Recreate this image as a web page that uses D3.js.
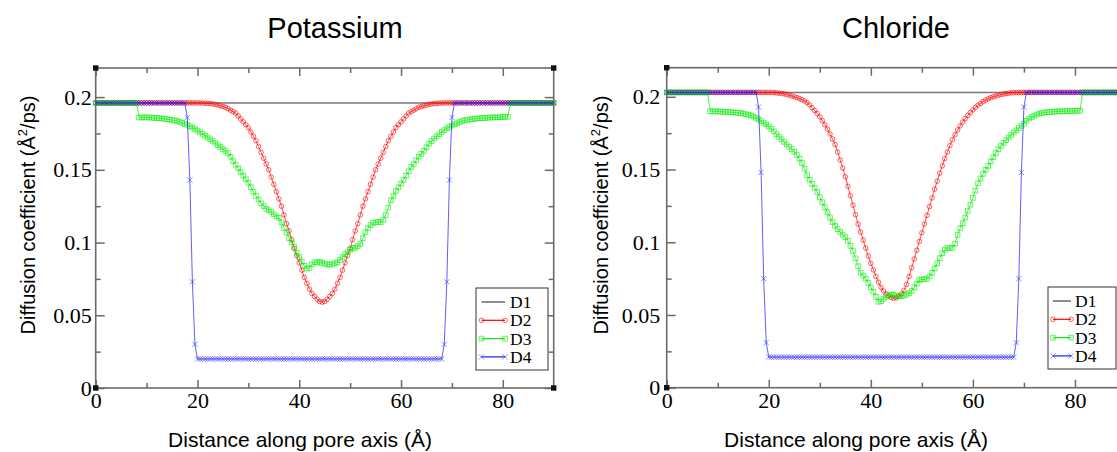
<!DOCTYPE html>
<html><head><meta charset="utf-8">
<script src="https://cdn.jsdelivr.net/npm/d3@7"></script>
<style>body{margin:0;background:#fff}svg{display:block}</style>
</head><body>
<svg id="chart" width="1117" height="452"></svg>
<script>
// ---------- DATA ----------
const positions = [
0,0.5,1,1.5,2,2.5,3,3.5,4,4.5,
5,5.5,6,6.5,7,7.5,8,8.5,9,9.5,
10,10.5,11,11.5,12,12.5,13,13.5,14,14.5,
15,15.5,16,16.5,17,17.5,18,18.5,19,19.5,
20,20.5,21,21.5,22,22.5,23,23.5,24,24.5,
25,25.5,26,26.5,27,27.5,28,28.5,29,29.5,
30,30.5,31,31.5,32,32.5,33,33.5,34,34.5,
35,35.5,36,36.5,37,37.5,38,38.5,39,39.5,
40,40.5,41,41.5,42,42.5,43,43.5,44,44.5,
45,45.5,46,46.5,47,47.5,48,48.5,49,49.5,
50,50.5,51,51.5,52,52.5,53,53.5,54,54.5,
55,55.5,56,56.5,57,57.5,58,58.5,59,59.5,
60,60.5,61,61.5,62,62.5,63,63.5,64,64.5,
65,65.5,66,66.5,67,67.5,68,68.5,69,69.5,
70,70.5,71,71.5,72,72.5,73,73.5,74,74.5,
75,75.5,76,76.5,77,77.5,78,78.5,79,79.5,
80,80.5,81,81.5,82,82.5,83,83.5,84,84.5,
85,85.5,86,86.5,87,87.5,88,88.5,89,89.5,
90];

const seriesNames = ["D1","D2","D3","D4"];
const d1Positions = [0, 90];

const potassiumD1 = [0.196, 0.196];
const potassiumD2 = [
0.196,0.196,0.196,0.196,0.196,0.196,0.196,0.196,0.196,0.196,
0.196,0.196,0.196,0.196,0.196,0.196,0.196,0.196,0.196,0.196,
0.196,0.196,0.196,0.196,0.196,0.196,0.196,0.196,0.196,0.196,
0.196,0.196,0.196,0.196,0.196,0.196,0.196,0.196,0.196,0.196,
0.196,0.196,0.1959,0.1958,0.1957,0.1955,0.1953,0.195,0.1945,0.194,
0.1935,0.193,0.192,0.191,0.19,0.189,0.187,0.185,0.183,0.181,
0.179,0.176,0.173,0.17,0.166,0.162,0.158,0.154,0.15,0.145,
0.14,0.135,0.13,0.125,0.119,0.113,0.108,0.102,0.096,0.091,
0.086,0.081,0.076,0.072,0.068,0.065,0.063,0.061,0.0595,0.059,
0.0595,0.061,0.063,0.065,0.068,0.072,0.076,0.081,0.086,0.091,
0.096,0.102,0.108,0.113,0.119,0.125,0.13,0.135,0.14,0.145,
0.15,0.154,0.158,0.162,0.166,0.17,0.173,0.176,0.179,0.181,
0.183,0.185,0.187,0.189,0.19,0.191,0.192,0.193,0.1935,0.194,
0.1945,0.195,0.1953,0.1955,0.1957,0.1958,0.1959,0.196,0.196,0.196,
0.196,0.196,0.196,0.196,0.196,0.196,0.196,0.196,0.196,0.196,
0.196,0.196,0.196,0.196,0.196,0.196,0.196,0.196,0.196,0.196,
0.196,0.196,0.196,0.196,0.196,0.196,0.196,0.196,0.196,0.196,
0.196,0.196,0.196,0.196,0.196,0.196,0.196,0.196,0.196,0.196,
0.196];
const potassiumD3 = [
0.196,0.196,0.196,0.196,0.196,0.196,0.196,0.196,0.196,0.196,
0.196,0.196,0.196,0.196,0.196,0.196,0.196,0.186,0.186,0.186,
0.186,0.186,0.1858,0.1857,0.1856,0.1855,0.1853,0.185,0.1848,0.1845,
0.1842,0.184,0.1835,0.183,0.1823,0.1815,0.181,0.18,0.179,0.178,
0.177,0.1758,0.1747,0.1735,0.1722,0.171,0.1698,0.1685,0.167,0.1657,
0.1643,0.163,0.1615,0.159,0.156,0.1535,0.151,0.1485,0.146,0.1435,
0.141,0.138,0.135,0.132,0.1295,0.127,0.125,0.1232,0.1222,0.121,
0.1195,0.118,0.117,0.114,0.11,0.107,0.103,0.1,0.097,0.093,
0.09,0.087,0.084,0.082,0.0825,0.085,0.0865,0.0862,0.0868,0.086,
0.0855,0.085,0.0848,0.0852,0.0858,0.0865,0.088,0.09,0.092,0.0935,
0.095,0.096,0.0965,0.0975,0.099,0.103,0.107,0.11,0.112,0.1135,
0.114,0.1142,0.114,0.1155,0.119,0.124,0.129,0.132,0.1355,0.138,
0.1405,0.143,0.146,0.149,0.152,0.154,0.1565,0.159,0.161,0.163,
0.1655,0.168,0.1698,0.1715,0.173,0.1745,0.176,0.1773,0.1785,0.1795,
0.1805,0.1813,0.182,0.1828,0.1835,0.184,0.1843,0.1846,0.1849,0.1851,
0.1853,0.1855,0.1856,0.1857,0.1858,0.1859,0.186,0.186,0.1861,0.1862,
0.1863,0.1864,0.1865,0.196,0.196,0.196,0.196,0.196,0.196,0.196,
0.196,0.196,0.196,0.196,0.196,0.196,0.196,0.196,0.196,0.196,
0.196];
const potassiumD4 = [
0.196,0.196,0.196,0.196,0.196,0.196,0.196,0.196,0.196,0.196,
0.196,0.196,0.196,0.196,0.196,0.196,0.196,0.196,0.196,0.196,
0.196,0.196,0.196,0.196,0.196,0.196,0.196,0.196,0.196,0.196,
0.196,0.196,0.196,0.196,0.196,0.196,0.186,0.143,0.073,0.03,
0.02,0.02,0.02,0.02,0.02,0.02,0.02,0.02,0.02,0.02,
0.02,0.02,0.02,0.02,0.02,0.02,0.02,0.02,0.02,0.02,
0.02,0.02,0.02,0.02,0.02,0.02,0.02,0.02,0.02,0.02,
0.02,0.02,0.02,0.02,0.02,0.02,0.02,0.02,0.02,0.02,
0.02,0.02,0.02,0.02,0.02,0.02,0.02,0.02,0.02,0.02,
0.02,0.02,0.02,0.02,0.02,0.02,0.02,0.02,0.02,0.02,
0.02,0.02,0.02,0.02,0.02,0.02,0.02,0.02,0.02,0.02,
0.02,0.02,0.02,0.02,0.02,0.02,0.02,0.02,0.02,0.02,
0.02,0.02,0.02,0.02,0.02,0.02,0.02,0.02,0.02,0.02,
0.02,0.02,0.02,0.02,0.02,0.02,0.02,0.03,0.073,0.143,
0.186,0.196,0.196,0.196,0.196,0.196,0.196,0.196,0.196,0.196,
0.196,0.196,0.196,0.196,0.196,0.196,0.196,0.196,0.196,0.196,
0.196,0.196,0.196,0.196,0.196,0.196,0.196,0.196,0.196,0.196,
0.196,0.196,0.196,0.196,0.196,0.196,0.196,0.196,0.196,0.196,
0.196];

const chlorideD1 = [0.203, 0.203];
const chlorideD2 = [
0.203,0.203,0.203,0.203,0.203,0.203,0.203,0.203,0.203,0.203,
0.203,0.203,0.203,0.203,0.203,0.203,0.203,0.203,0.203,0.203,
0.203,0.203,0.203,0.203,0.203,0.203,0.203,0.203,0.203,0.203,
0.203,0.203,0.203,0.203,0.203,0.203,0.203,0.203,0.203,0.203,
0.203,0.203,0.2029,0.2027,0.2025,0.2023,0.202,0.2016,0.2011,0.2006,
0.2,0.1995,0.1988,0.198,0.1972,0.196,0.1945,0.1925,0.1905,0.1885,
0.1862,0.1836,0.1808,0.1778,0.1745,0.171,0.1672,0.162,0.1565,0.151,
0.145,0.1385,0.132,0.1255,0.119,0.1125,0.107,0.1015,0.096,0.0905,
0.0855,0.081,0.0765,0.0725,0.069,0.0665,0.0645,0.063,0.062,0.0615,
0.0618,0.0628,0.0645,0.067,0.071,0.0765,0.0825,0.0885,0.0945,0.1005,
0.1065,0.1125,0.1185,0.1245,0.1305,0.1365,0.142,0.1475,0.1525,0.1575,
0.162,0.1665,0.1705,0.174,0.1772,0.18,0.1826,0.185,0.1872,0.1892,
0.191,0.1927,0.1942,0.1955,0.1967,0.1977,0.1986,0.1994,0.2,0.2006,
0.2011,0.2015,0.2019,0.2022,0.2025,0.2027,0.2028,0.2029,0.203,0.203,
0.203,0.203,0.203,0.203,0.203,0.203,0.203,0.203,0.203,0.203,
0.203,0.203,0.203,0.203,0.203,0.203,0.203,0.203,0.203,0.203,
0.203,0.203,0.203,0.203,0.203,0.203,0.203,0.203,0.203,0.203,
0.203,0.203,0.203,0.203,0.203,0.203,0.203,0.203,0.203,0.203,
0.203];
const chlorideD3 = [
0.203,0.203,0.203,0.203,0.203,0.203,0.203,0.203,0.203,0.203,
0.203,0.203,0.203,0.203,0.203,0.203,0.203,0.19,0.19,0.19,
0.1899,0.1898,0.1897,0.1896,0.1895,0.1894,0.1893,0.1891,0.189,0.1888,
0.1885,0.1881,0.1877,0.1872,0.1865,0.1855,0.1845,0.1833,0.182,0.181,
0.1795,0.178,0.1762,0.1743,0.1725,0.1708,0.169,0.1673,0.1657,0.164,
0.1622,0.16,0.1575,0.1545,0.1505,0.1462,0.143,0.14,0.1375,0.1345,
0.131,0.1275,0.124,0.1205,0.117,0.1138,0.1112,0.109,0.107,0.1052,
0.1035,0.101,0.0975,0.094,0.089,0.0835,0.079,0.077,0.075,0.072,
0.069,0.066,0.0625,0.059,0.0595,0.061,0.0625,0.0635,0.064,0.0638,
0.0632,0.0628,0.063,0.0635,0.064,0.065,0.0665,0.069,0.0715,0.074,
0.0745,0.0745,0.0748,0.0765,0.079,0.082,0.0855,0.089,0.0925,0.095,
0.096,0.096,0.0962,0.099,0.105,0.1095,0.113,0.117,0.1215,0.1258,
0.1305,0.1355,0.1405,0.1438,0.147,0.1498,0.1525,0.1555,0.1585,0.1613,
0.164,0.1662,0.1683,0.1702,0.172,0.1738,0.1755,0.177,0.1785,0.18,
0.1815,0.1835,0.185,0.186,0.187,0.1878,0.1885,0.1889,0.1892,0.1894,
0.1896,0.1897,0.1898,0.1899,0.19,0.19,0.1901,0.1902,0.1902,0.1903,
0.1903,0.1904,0.1904,0.203,0.203,0.203,0.203,0.203,0.203,0.203,
0.203,0.203,0.203,0.203,0.203,0.203,0.203,0.203,0.203,0.203,
0.203];
const chlorideD4 = [
0.203,0.203,0.203,0.203,0.203,0.203,0.203,0.203,0.203,0.203,
0.203,0.203,0.203,0.203,0.203,0.203,0.203,0.203,0.203,0.203,
0.203,0.203,0.203,0.203,0.203,0.203,0.203,0.203,0.203,0.203,
0.203,0.203,0.203,0.203,0.203,0.203,0.193,0.148,0.075,0.031,
0.021,0.021,0.021,0.021,0.021,0.021,0.021,0.021,0.021,0.021,
0.021,0.021,0.021,0.021,0.021,0.021,0.021,0.021,0.021,0.021,
0.021,0.021,0.021,0.021,0.021,0.021,0.021,0.021,0.021,0.021,
0.021,0.021,0.021,0.021,0.021,0.021,0.021,0.021,0.021,0.021,
0.021,0.021,0.021,0.021,0.021,0.021,0.021,0.021,0.021,0.021,
0.021,0.021,0.021,0.021,0.021,0.021,0.021,0.021,0.021,0.021,
0.021,0.021,0.021,0.021,0.021,0.021,0.021,0.021,0.021,0.021,
0.021,0.021,0.021,0.021,0.021,0.021,0.021,0.021,0.021,0.021,
0.021,0.021,0.021,0.021,0.021,0.021,0.021,0.021,0.021,0.021,
0.021,0.021,0.021,0.021,0.021,0.021,0.021,0.031,0.075,0.148,
0.193,0.203,0.203,0.203,0.203,0.203,0.203,0.203,0.203,0.203,
0.203,0.203,0.203,0.203,0.203,0.203,0.203,0.203,0.203,0.203,
0.203,0.203,0.203,0.203,0.203,0.203,0.203,0.203,0.203,0.203,
0.203,0.203,0.203,0.203,0.203,0.203,0.203,0.203,0.203,0.203,
0.203];

const xTicks = [0, 20, 40, 60, 80];
const xTickLabels = ["0", "20", "40", "60", "80"];
const xMinorTicks = [10, 30, 50, 70];
const yTicks = [0, 0.05, 0.1, 0.15, 0.2];
const yTickLabels = ["0", "0.05", "0.1", "0.15", "0.2"];
const yMinorTicks = [0.025, 0.075, 0.125, 0.175];
const xDomain = [0, 90];
const yDomain = [0, 0.22];
const titles = ["Potassium", "Chloride"];
const xAxisTitle = "Distance along pore axis (Å)";

// ---------- LAYOUT / STYLE ----------
const panels = [
  {title: titles[0], d1: potassiumD1, d2: potassiumD2, d3: potassiumD3, d4: potassiumD4,
   x0: 95.7, y0: 68, x1: 553.7, y1: 388, titleX: 335, xLabelX: 300, yLabelX: 35, yPad: 4,
   lg: {x: 476, y: 288, w: 72, h: 82, lx0: 481.5, lx1: 505, tx: 510}},
  {title: titles[1], d1: chlorideD1, d2: chlorideD2, d3: chlorideD3, d4: chlorideD4,
   x0: 666.7, y0: 67.7, x1: 1126, y1: 387.7, titleX: 896, xLabelX: 856, yLabelX: 608, yPad: 6.5,
   lg: {x: 1048, y: 287, w: 68, h: 82, lx0: 1053, lx1: 1071, tx: 1075}}
];
const colors = {D1: "#777777", D2: "#ff0000", D3: "#00ee00", D4: "#1a1aff"};
const axisColor = "#6a6a6a";
const serif = "'Liberation Serif','Times New Roman',serif";
const sans = "'Liberation Sans',Arial,sans-serif";

const svg = d3.select("#chart");

function drawMarker(g, kind, cx, cy, color) {
  if (kind === "D2") {
    g.append("circle").attr("cx", cx).attr("cy", cy).attr("r", 2.3)
      .attr("fill", "none").attr("stroke", color).attr("stroke-width", 1).attr("stroke-opacity", 0.6);
  } else if (kind === "D3") {
    g.append("rect").attr("x", cx - 2.3).attr("y", cy - 2.3).attr("width", 4.6).attr("height", 4.6)
      .attr("fill", "none").attr("stroke", color).attr("stroke-width", 1).attr("stroke-opacity", 0.6);
  } else if (kind === "D4") {
    g.append("path").attr("d", `M${cx-2.6},${cy-2.6}L${cx+2.6},${cy+2.6}M${cx-2.6},${cy+2.6}L${cx+2.6},${cy-2.6}`)
      .attr("fill", "none").attr("stroke", color).attr("stroke-width", 1).attr("stroke-opacity", 0.5);
  }
}

panels.forEach(p => {
  const x = d3.scaleLinear().domain(xDomain).range([p.x0, p.x1]);
  const y = d3.scaleLinear().domain(yDomain).range([p.y1, p.y0]);
  const g = svg.append("g");

  // title
  g.append("text").attr("x", p.titleX).attr("y", 38).attr("text-anchor", "middle")
    .attr("font-family", sans).attr("font-size", 29).attr("fill", "#000").text(p.title);

  // frame
  g.append("rect").attr("x", p.x0).attr("y", p.y0).attr("width", p.x1 - p.x0).attr("height", p.y1 - p.y0)
    .attr("fill", "none").attr("stroke", axisColor).attr("stroke-width", 1.6);

  // axes
  const styleAxis = sel => {
    sel.select(".domain").remove();
    sel.selectAll(".tick line").attr("stroke", axisColor).attr("stroke-width", 1.5);
    sel.selectAll(".tick text").attr("font-family", serif).attr("font-size", 22).attr("fill", "#000");
  };
  g.append("g").attr("transform", `translate(0,${p.y1})`)
    .call(d3.axisBottom(x).tickValues(xTicks).tickFormat((d, i) => xTickLabels[i]).tickSize(-8).tickPadding(4.5))
    .call(styleAxis);
  g.append("g").attr("transform", `translate(0,${p.y1})`)
    .call(d3.axisBottom(x).tickValues(xMinorTicks).tickFormat("").tickSize(-5)).call(styleAxis);
  g.append("g").attr("transform", `translate(0,${p.y0})`)
    .call(d3.axisTop(x).tickValues(xTicks).tickFormat("").tickSize(-8)).call(styleAxis);
  g.append("g").attr("transform", `translate(0,${p.y0})`)
    .call(d3.axisTop(x).tickValues(xMinorTicks).tickFormat("").tickSize(-5)).call(styleAxis);
  g.append("g").attr("transform", `translate(${p.x0},0)`)
    .call(d3.axisLeft(y).tickValues(yTicks).tickFormat((d, i) => yTickLabels[i]).tickSize(-9).tickPadding(p.yPad))
    .call(styleAxis);
  g.append("g").attr("transform", `translate(${p.x0},0)`)
    .call(d3.axisLeft(y).tickValues(yMinorTicks).tickFormat("").tickSize(-5)).call(styleAxis);
  g.append("g").attr("transform", `translate(${p.x1},0)`)
    .call(d3.axisRight(y).tickValues(yTicks).tickFormat("").tickSize(-9)).call(styleAxis);
  g.append("g").attr("transform", `translate(${p.x1},0)`)
    .call(d3.axisRight(y).tickValues(yMinorTicks).tickFormat("").tickSize(-5)).call(styleAxis);

  // axis titles
  g.append("text").attr("x", p.xLabelX).attr("y", 447).attr("text-anchor", "middle")
    .attr("font-family", sans).attr("font-size", 21).attr("fill", "#000").text(xAxisTitle);
  const yl = g.append("text").attr("transform", `translate(${p.yLabelX},215) rotate(-90)`)
    .attr("text-anchor", "middle").attr("font-family", sans).attr("font-size", 20).attr("fill", "#000");
  yl.append("tspan").text("Diffusion coefficient (Å");
  yl.append("tspan").attr("font-size", 13).attr("dy", -8).text("2");
  yl.append("tspan").attr("dy", 8).text("/ps)");

  // series
  const line = d3.line().x(d => x(d[0])).y(d => y(d[1]));
  const d1pts = d1Positions.map((v, i) => [v, p.d1[i]]);
  g.append("path").attr("d", line(d1pts)).attr("fill", "none")
    .attr("stroke", colors.D1).attr("stroke-width", 1.5);
  [["D2", p.d2], ["D3", p.d3], ["D4", p.d4]].forEach(([name, vals]) => {
    const pts = positions.map((v, i) => [v, vals[i]]).filter(d => d[1] !== undefined);
    const sg = g.append("g");
    sg.append("path").attr("d", line(pts)).attr("fill", "none")
      .attr("stroke", colors[name]).attr("stroke-width", 1).attr("stroke-opacity", 0.7);
    pts.forEach(d => drawMarker(sg, name, x(d[0]), y(d[1]), colors[name]));
  });

  // corner handles
  [[p.x0, p.y0], [p.x1, p.y0], [p.x0, p.y1], [p.x1, p.y1]].forEach(([cx, cy]) => {
    g.append("rect").attr("x", cx - 2.7).attr("y", cy - 2.7).attr("width", 5.4).attr("height", 5.4).attr("fill", "#111");
  });

  // legend
  const L = p.lg;
  const lg = g.append("g");
  lg.append("rect").attr("x", L.x).attr("y", L.y).attr("width", L.w).attr("height", L.h)
    .attr("fill", "#fff").attr("stroke", "#333").attr("stroke-width", 1);
  seriesNames.forEach((name, i) => {
    const cy = L.y + 14 + i * 18.3;
    lg.append("line").attr("x1", L.lx0).attr("x2", L.lx1).attr("y1", cy).attr("y2", cy)
      .attr("stroke", name === "D1" ? "#444" : colors[name]).attr("stroke-width", 1.2);
    if (name !== "D1") { drawMarker(lg, name, L.lx0, cy, colors[name]); drawMarker(lg, name, L.lx1, cy, colors[name]); }
    lg.append("text").attr("x", L.tx).attr("y", cy).attr("dy", "0.35em")
      .attr("font-family", serif).attr("font-size", 17.5).attr("fill", "#000").text(name);
  });
});
</script>
</body></html>
